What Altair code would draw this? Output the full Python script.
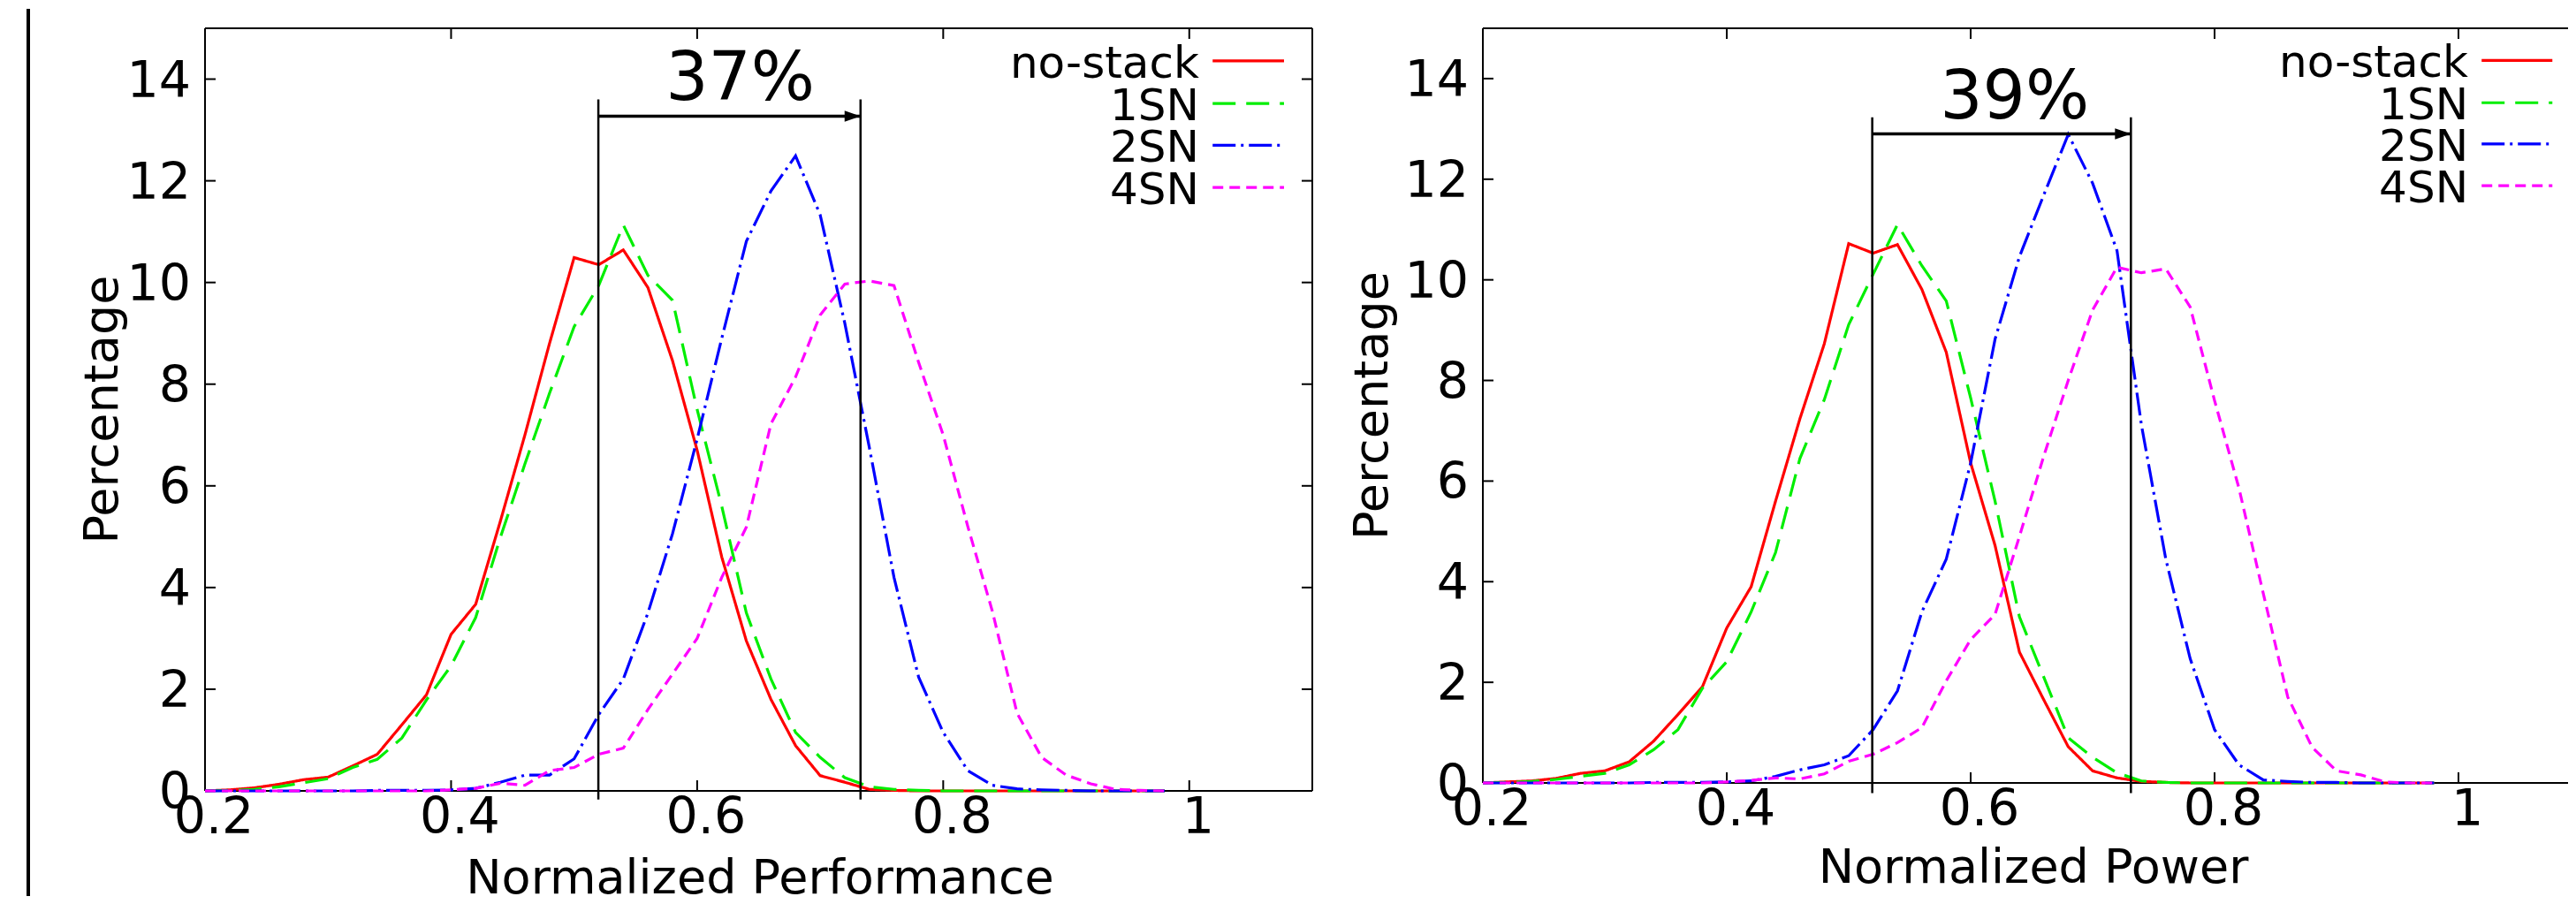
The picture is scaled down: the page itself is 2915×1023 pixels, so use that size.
import altair as alt
import pandas as pd

FONT = "DejaVu Sans"

# ---------------- data ----------------
X = [0.20, 0.22, 0.24, 0.26, 0.28, 0.30, 0.32, 0.34, 0.36, 0.38,
     0.40, 0.42, 0.44, 0.46, 0.48, 0.50, 0.52, 0.54, 0.56, 0.58,
     0.60, 0.62, 0.64, 0.66, 0.68, 0.70, 0.72, 0.74, 0.76, 0.78,
     0.80, 0.82, 0.84, 0.86, 0.88, 0.90, 0.92, 0.94, 0.96, 0.98]

SERIES = ["no-stack", "1SN", "2SN", "4SN"]

# Normalized Performance panel
PERF_NOSTACK = [0.00, 0.02, 0.06, 0.13, 0.22, 0.27, 0.49, 0.72, 1.30, 1.89,
                3.08, 3.67, 5.30, 7.00, 8.80, 10.49, 10.35, 10.64, 9.90, 8.46,
                6.70, 4.60, 2.95, 1.80, 0.89, 0.30, 0.17, 0.03, 0.01, 0.00,
                0.00, 0.00, 0.00, 0.00, 0.00, 0.00, 0.00, 0.00, 0.00, 0.00]
PERF_1SN = [0.00, 0.01, 0.03, 0.08, 0.16, 0.24, 0.46, 0.62, 1.04, 1.79,
            2.46, 3.41, 4.98, 6.43, 7.82, 9.13, 9.94, 11.13, 10.14, 9.65,
            7.50, 5.60, 3.50, 2.20, 1.15, 0.66, 0.26, 0.08, 0.03, 0.01,
            0.00, 0.00, 0.00, 0.00, 0.00, 0.00, 0.00, 0.00, 0.00, 0.00]
PERF_2SN = [0.00, 0.00, 0.00, 0.00, 0.00, 0.00, 0.00, 0.01, 0.01, 0.01,
            0.02, 0.05, 0.17, 0.31, 0.31, 0.63, 1.50, 2.20, 3.50, 5.06,
            6.92, 8.90, 10.81, 11.80, 12.49, 11.33, 9.20, 6.75, 4.20, 2.24,
            1.15, 0.40, 0.11, 0.04, 0.02, 0.01, 0.00, 0.00, 0.00, 0.00]
PERF_4SN = [0.00, 0.00, 0.00, 0.00, 0.00, 0.00, 0.00, 0.00, 0.00, 0.00,
            0.02, 0.05, 0.15, 0.11, 0.40, 0.46, 0.72, 0.84, 1.60, 2.30,
            3.00, 4.20, 5.19, 7.22, 8.14, 9.36, 9.97, 10.03, 9.94, 8.43,
            7.00, 5.20, 3.53, 1.53, 0.66, 0.31, 0.14, 0.03, 0.01, 0.00]

# Normalized Power panel
POW_NOSTACK = [0.00, 0.02, 0.04, 0.09, 0.19, 0.24, 0.42, 0.83, 1.36, 1.91,
               3.08, 3.90, 5.60, 7.24, 8.73, 10.72, 10.53, 10.70, 9.81, 8.56,
               6.36, 4.72, 2.60, 1.65, 0.72, 0.24, 0.10, 0.03, 0.01, 0.00,
               0.00, 0.00, 0.00, 0.00, 0.00, 0.00, 0.00, 0.00, 0.00, 0.00]
POW_1SN = [0.00, 0.01, 0.03, 0.07, 0.13, 0.19, 0.36, 0.66, 1.06, 1.88,
           2.41, 3.40, 4.58, 6.45, 7.62, 9.11, 10.11, 11.10, 10.28, 9.58,
           7.65, 5.60, 3.30, 2.10, 0.90, 0.51, 0.20, 0.04, 0.01, 0.00,
           0.00, 0.00, 0.00, 0.00, 0.00, 0.00, 0.00, 0.00, 0.00, 0.00]
POW_2SN = [0.00, 0.00, 0.00, 0.00, 0.00, 0.00, 0.00, 0.01, 0.01, 0.01,
           0.02, 0.04, 0.13, 0.26, 0.36, 0.54, 1.06, 1.83, 3.40, 4.45,
           6.36, 8.82, 10.46, 11.69, 12.89, 11.92, 10.58, 7.12, 4.45, 2.47,
           1.06, 0.36, 0.06, 0.03, 0.01, 0.01, 0.00, 0.00, 0.00, 0.00]
POW_4SN = [0.00, 0.00, 0.00, 0.00, 0.00, 0.00, 0.00, 0.00, 0.00, 0.00,
           0.02, 0.05, 0.10, 0.08, 0.18, 0.43, 0.57, 0.80, 1.10, 2.03,
           2.85, 3.35, 4.90, 6.50, 8.00, 9.40, 10.25, 10.14, 10.22, 9.46,
           7.60, 5.86, 3.76, 1.71, 0.71, 0.24, 0.16, 0.02, 0.00, 0.00]

XTICKS = [0.2, 0.4, 0.6, 0.8, 1.0]
XLABELS = ["0.2", "0.4", "0.6", "0.8", "1"]
YTICKS = [0, 2, 4, 6, 8, 10, 12, 14]
YLABELS = ["0", "2", "4", "6", "8", "10", "12", "14"]

# annotation markers (vertical lines, gain label)
PERF_MARKS = [0.5197, 0.7328]
PERF_LABEL = "37%"
POW_MARKS = [0.5193, 0.7314]
POW_LABEL = "39%"

# ---------------- styles ----------------
COLORS = ["#ff0000", "#00ee00", "#0000ff", "#ff00ff"]
DASHES = [[1, 0], [26, 12], [26, 6, 3, 6], [12, 7]]
LINE_W = 3.2
TICK_FS = 57
TITLE_FS = 54

LEG_Y = [14.36, 13.52, 12.70, 11.87]
LEG_XT = 1.008
LEG_X1, LEG_X2 = 1.019, 1.077

color_scale = alt.Scale(domain=SERIES, range=COLORS)
dash_scale = alt.Scale(domain=SERIES, range=DASHES)


def panel(values, xtitle, W, H, marks, vtop, vbot, arrow_y, label, label_x,
          label_y, title_cx, title_dy, ytitle_x, right_frame, outer_line):
    rows = []
    for name, vals in zip(SERIES, values):
        for xv, v in zip(X, vals):
            rows.append({"x": xv, "v": v, "series": name})
    df = pd.DataFrame(rows)
    xs = alt.Scale(domain=[0.2, 1.1], nice=False, zero=False)
    ys = alt.Scale(domain=[0, 15], nice=False, zero=False)
    one = pd.DataFrame({"k": [0]})
    layers = []

    if outer_line:
        layers.append(alt.Chart(one).mark_rule(color="black", strokeWidth=4).encode(
            x=alt.value(-200), y=alt.value(-22), y2=alt.value(990)))

    # frame
    fr = alt.Chart(one).mark_rule(color="black", strokeWidth=2)
    layers += [
        fr.encode(x=alt.value(0), x2=alt.value(W), y=alt.value(0)),
        fr.encode(x=alt.value(0), x2=alt.value(W), y=alt.value(H)),
        fr.encode(x=alt.value(0), y=alt.value(0), y2=alt.value(H)),
    ]
    if right_frame:
        layers.append(fr.encode(x=alt.value(W), y=alt.value(0), y2=alt.value(H)))

    # inward ticks
    xt_df = pd.DataFrame({"t": XTICKS, "s": XLABELS})
    yt_df = pd.DataFrame({"t": YTICKS, "s": YLABELS})
    xt = alt.Chart(xt_df).mark_rule(color="black", strokeWidth=2)
    yt = alt.Chart(yt_df).mark_rule(color="black", strokeWidth=2)
    xenc = alt.X("t:Q", scale=xs, axis=None)
    yenc = alt.Y("t:Q", scale=ys, axis=None)
    layers += [
        xt.encode(x=xenc, y=alt.value(H), y2=alt.value(H - 12)),
        xt.encode(x=xenc, y=alt.value(0), y2=alt.value(12)),
        yt.encode(y=yenc, x=alt.value(0), x2=alt.value(12)),
    ]
    if right_frame:
        layers.append(yt.encode(y=yenc, x=alt.value(W - 12), x2=alt.value(W)))

    # tick labels
    layers.append(alt.Chart(xt_df).mark_text(
        font=FONT, fontSize=TICK_FS, align="center", baseline="alphabetic",
        dx=10, color="black").encode(x=xenc, y=alt.value(H + 48), text="s:N"))
    layers.append(alt.Chart(yt_df).mark_text(
        font=FONT, fontSize=TICK_FS, align="right", baseline="middle",
        dy=3, color="black").encode(y=yenc, x=alt.value(-16), text="s:N"))

    # axis titles
    layers.append(alt.Chart(one).mark_text(
        font=FONT, fontSize=TITLE_FS, align="center", baseline="alphabetic",
        angle=270, color="black").encode(
        x=alt.value(ytitle_x), y=alt.value(H / 2), text=alt.value("Percentage")))
    layers.append(alt.Chart(one).mark_text(
        font=FONT, fontSize=TITLE_FS, align="center", baseline="alphabetic",
        color="black").encode(
        x=alt.value(title_cx), y=alt.value(H + title_dy), text=alt.value(xtitle)))

    # series
    lines = alt.Chart(df).mark_line(strokeWidth=LINE_W, strokeJoin="miter").encode(
        x=alt.X("x:Q", scale=xs, axis=None),
        y=alt.Y("v:Q", scale=ys, axis=None),
        color=alt.Color("series:N", scale=color_scale, legend=None),
        strokeDash=alt.StrokeDash("series:N", scale=dash_scale, legend=None),
    )
    layers.append(lines)

    # vertical markers + arrow + label
    vdf = pd.DataFrame({"x": marks, "top": [vtop, vtop], "bot": [vbot, vbot]})
    layers.append(alt.Chart(vdf).mark_rule(color="black", strokeWidth=2.5).encode(
        x=alt.X("x:Q", scale=xs, axis=None),
        y=alt.Y("top:Q", scale=ys, axis=None), y2="bot:Q"))

    adf = pd.DataFrame({"x1": [marks[0]], "x2": [marks[1]], "y": [arrow_y]})
    layers.append(alt.Chart(adf).mark_rule(color="black", strokeWidth=3.5).encode(
        x=alt.X("x1:Q", scale=xs, axis=None), x2="x2:Q",
        y=alt.Y("y:Q", scale=ys, axis=None)))
    layers.append(alt.Chart(adf).mark_point(
        shape="M-2,-0.7L0,0L-2,0.7Z", size=324, filled=True, color="black",
        opacity=1, strokeWidth=0).encode(
        x=alt.X("x2:Q", scale=xs, axis=None), y=alt.Y("y:Q", scale=ys, axis=None)))

    tdf = pd.DataFrame({"x": [label_x], "y": [label_y], "t": [label]})
    layers.append(alt.Chart(tdf).mark_text(
        font=FONT, fontSize=76, align="center", baseline="alphabetic", color="black").encode(
        x=alt.X("x:Q", scale=xs, axis=None), y=alt.Y("y:Q", scale=ys, axis=None), text="t:N"))

    # legend (labels left of the line samples)
    ldf = pd.DataFrame({"series": SERIES, "y": LEG_Y, "xt": [LEG_XT] * 4,
                        "x1": [LEG_X1] * 4, "x2": [LEG_X2] * 4})
    layers.append(alt.Chart(ldf).mark_text(
        font=FONT, fontSize=50, align="right", baseline="alphabetic", dy=19,
        color="black").encode(
        x=alt.X("xt:Q", scale=xs, axis=None), y=alt.Y("y:Q", scale=ys, axis=None),
        text="series:N"))
    layers.append(alt.Chart(ldf).mark_rule(strokeWidth=LINE_W).encode(
        x=alt.X("x1:Q", scale=xs, axis=None), x2="x2:Q",
        y=alt.Y("y:Q", scale=ys, axis=None),
        color=alt.Color("series:N", scale=color_scale, legend=None),
        strokeDash=alt.StrokeDash("series:N", scale=dash_scale, legend=None)))

    return alt.layer(*layers).properties(width=W, height=H)


left = panel([PERF_NOSTACK, PERF_1SN, PERF_2SN, PERF_4SN], "Normalized Performance",
             1253, 863, PERF_MARKS, 13.6, -0.17, 13.27, PERF_LABEL, 0.635, 13.6,
             628, 116, -99, True, True)
right = panel([POW_NOSTACK, POW_1SN, POW_2SN, POW_4SN], "Normalized Power",
              1242, 854, POW_MARKS, 13.23, -0.2, 12.9, POW_LABEL, 0.636, 13.2,
              623, 112.5, -108, False, False)

chart = alt.hconcat(left, right, spacing=193, bounds="flush").properties(
    padding={"left": 22, "top": 0, "right": -15, "bottom": -10},
    background="white",
).configure_view(strokeOpacity=0)

chart.save("out.html", embed_options={"renderer": "svg", "actions": False})
